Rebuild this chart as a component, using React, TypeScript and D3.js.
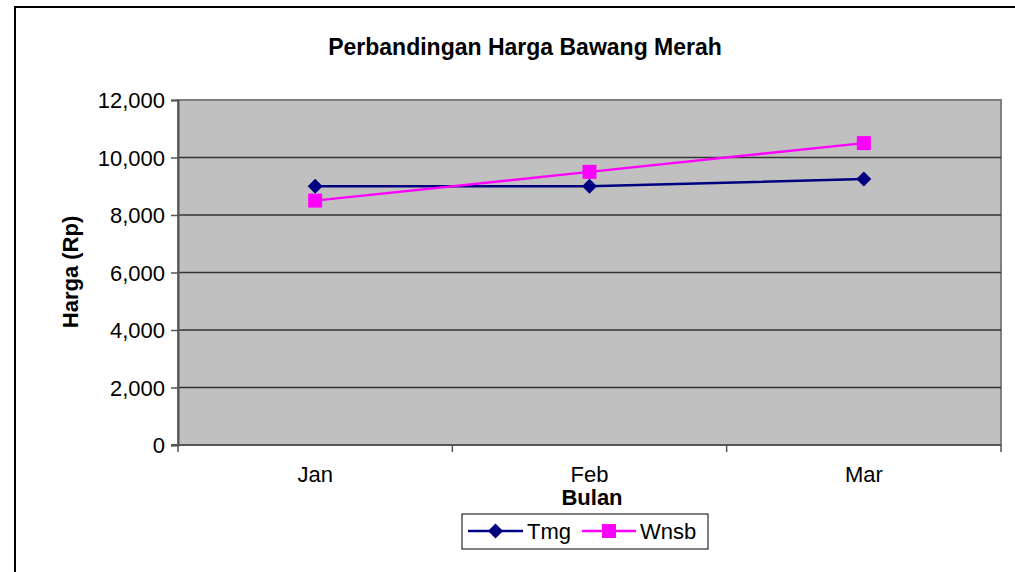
import { useRef, useEffect } from 'react';
import * as d3 from 'd3';

// chart data
const months = ['Jan', 'Feb', 'Mar'];
const tmgValues = [9000, 9000, 9250];
const wnsbValues = [8500, 9500, 10500];
const yTicks = [0, 2000, 4000, 6000, 8000, 10000, 12000];

const series = [
  { name: 'Tmg', values: tmgValues, color: '#000080', marker: 'diamond' },
  { name: 'Wnsb', values: wnsbValues, color: '#FF00FF', marker: 'square' },
];

const FONT = '"Liberation Sans", Arial, sans-serif';

const App = () => {
  const svgRef = useRef<SVGSVGElement>(null);

  useEffect(() => {
    const svg = d3.select(svgRef.current);
    svg.selectAll('*').remove();

    const width = 1015;
    const height = 572;
    const plot = { left: 178, right: 1001, top: 100, bottom: 445 };

    svg.append('rect')
      .attr('width', width).attr('height', height).attr('fill', '#fff');

    // outer chart frame
    svg.append('rect')
      .attr('x', 15).attr('y', 7)
      .attr('width', 1040).attr('height', 600)
      .attr('fill', 'none').attr('stroke', '#000').attr('stroke-width', 2);

    const x = d3.scaleBand()
      .domain(months)
      .range([plot.left, plot.right]);

    const y = d3.scaleLinear()
      .domain([0, 12000])
      .range([plot.bottom, plot.top]);

    // plot area
    svg.append('rect')
      .attr('x', plot.left).attr('y', plot.top)
      .attr('width', plot.right - plot.left).attr('height', plot.bottom - plot.top)
      .attr('fill', '#C0C0C0')
      .attr('stroke', '#808080').attr('stroke-width', 2);

    // gridlines
    svg.append('g')
      .selectAll('line')
      .data(yTicks.filter(d => d > 0))
      .join('line')
      .attr('x1', plot.left).attr('x2', plot.right)
      .attr('y1', d => y(d)).attr('y2', d => y(d))
      .attr('stroke', d => (d === 12000 ? '#808080' : '#333'))
      .attr('stroke-width', d => (d === 12000 ? 2 : 1.3));

    // y axis
    const yAxis = svg.append('g')
      .attr('transform', `translate(${plot.left},0)`)
      .call(d3.axisLeft(y).tickValues(yTicks).tickSize(7).tickPadding(6).tickFormat(d3.format(',')));
    yAxis.select('.domain').attr('stroke', '#555').attr('stroke-width', 2);
    yAxis.selectAll('.tick line').attr('stroke', '#555').attr('stroke-width', 1.5);
    yAxis.selectAll('text')
      .attr('font-family', FONT).attr('font-size', 22).attr('fill', '#000')
      .attr('dy', '0.36em');

    // x axis: ticks at category boundaries
    const boundaries = [plot.left, ...months.map(m => (x(m) as number) + x.bandwidth())];
    svg.append('line')
      .attr('x1', plot.left - 7).attr('x2', plot.right)
      .attr('y1', plot.bottom).attr('y2', plot.bottom)
      .attr('stroke', '#555').attr('stroke-width', 2);
    svg.append('g')
      .selectAll('line')
      .data(boundaries)
      .join('line')
      .attr('x1', d => d).attr('x2', d => d)
      .attr('y1', plot.bottom).attr('y2', plot.bottom + 7)
      .attr('stroke', '#555').attr('stroke-width', 1.5);
    svg.append('g')
      .selectAll('text')
      .data(months)
      .join('text')
      .attr('x', d => (x(d) as number) + x.bandwidth() / 2)
      .attr('y', 482)
      .attr('text-anchor', 'middle')
      .attr('font-family', FONT).attr('font-size', 22)
      .text(d => d);

    // titles
    svg.append('text')
      .attr('x', 525).attr('y', 55)
      .attr('text-anchor', 'middle')
      .attr('font-family', FONT).attr('font-size', 23).attr('font-weight', 'bold')
      .text('Perbandingan Harga Bawang Merah');
    svg.append('text')
      .attr('x', 592).attr('y', 505)
      .attr('text-anchor', 'middle')
      .attr('font-family', FONT).attr('font-size', 22).attr('font-weight', 'bold')
      .text('Bulan');
    svg.append('text')
      .attr('transform', 'translate(78,272) rotate(-90)')
      .attr('text-anchor', 'middle')
      .attr('font-family', FONT).attr('font-size', 22).attr('font-weight', 'bold')
      .text('Harga (Rp)');

    const drawMarker = (g, kind, cx, cy, color) => {
      if (kind === 'diamond') {
        g.append('path')
          .attr('d', `M${cx},${cy - 7.5}L${cx + 7.5},${cy}L${cx},${cy + 7.5}L${cx - 7.5},${cy}Z`)
          .attr('fill', color);
      } else {
        g.append('rect')
          .attr('x', cx - 7).attr('y', cy - 7)
          .attr('width', 14).attr('height', 14)
          .attr('fill', color);
      }
    };

    const line = d3.line<number>()
      .x((_, i) => (x(months[i]) as number) + x.bandwidth() / 2)
      .y(d => y(d));

    series.forEach(s => {
      const g = svg.append('g');
      g.append('path')
        .attr('d', line(s.values))
        .attr('fill', 'none')
        .attr('stroke', s.color)
        .attr('stroke-width', 2.5);
      s.values.forEach((v, i) => {
        drawMarker(g, s.marker, (x(months[i]) as number) + x.bandwidth() / 2, y(v), s.color);
      });
    });

    // legend
    const legend = svg.append('g');
    legend.append('rect')
      .attr('x', 462).attr('y', 514)
      .attr('width', 246).attr('height', 35)
      .attr('fill', '#fff').attr('stroke', '#000').attr('stroke-width', 1);
    const legendItems = [
      { s: series[0], x0: 468, x1: 523, tx: 527 },
      { s: series[1], x0: 582, x1: 636, tx: 640 },
    ];
    legendItems.forEach(({ s, x0, x1, tx }) => {
      legend.append('line')
        .attr('x1', x0).attr('x2', x1)
        .attr('y1', 531).attr('y2', 531)
        .attr('stroke', s.color).attr('stroke-width', 2.5);
      drawMarker(legend, s.marker, (x0 + x1) / 2, 531, s.color);
      legend.append('text')
        .attr('x', tx).attr('y', 539)
        .attr('font-family', FONT).attr('font-size', 22)
        .text(s.name);
    });
  }, []);

  return (
    <svg
      ref={svgRef}
      width={1015}
      height={572}
      style={{ position: 'absolute', left: 0, top: 0, display: 'block' }}
    />
  );
};

export default App;
